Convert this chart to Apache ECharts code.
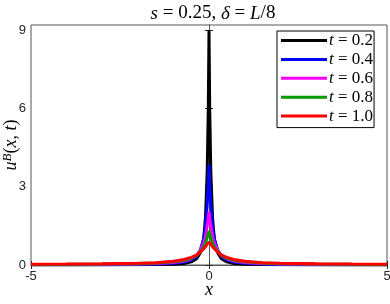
<!DOCTYPE html>
<html><head><meta charset="utf-8">
<script src="https://cdn.jsdelivr.net/npm/echarts@6/dist/echarts.min.js"></script>
<style>html,body{margin:0;padding:0;background:#fff}#c{width:390px;height:304px}</style>
</head><body><div id="c"></div>
<script>
const xs = [-5,-4,-3,-2,-1.5,-1,-0.7,-0.5,-0.35,-0.25,-0.15,-0.1,-0.05,-0.02,0,0.02,0.05,0.1,0.15,0.25,0.35,0.5,0.7,1,1.5,2,3,4,5];
const u02 = [0.002,0.003,0.005,0.009,0.015,0.03,0.06,0.12,0.24,0.45,1.0,1.8,3.6,6.0,9.0,6.0,3.6,1.8,1.0,0.45,0.24,0.12,0.06,0.03,0.015,0.009,0.005,0.003,0.002];
const u04 = [0.008,0.01,0.014,0.023,0.035,0.065,0.11,0.19,0.33,0.55,1.0,1.5,2.3,3.1,3.85,3.1,2.3,1.5,1.0,0.55,0.33,0.19,0.11,0.065,0.035,0.023,0.014,0.01,0.008];
const u06 = [0.016,0.019,0.025,0.038,0.055,0.095,0.15,0.24,0.38,0.55,0.85,1.1,1.5,1.8,2.04,1.8,1.5,1.1,0.85,0.55,0.38,0.24,0.15,0.095,0.055,0.038,0.025,0.019,0.016];
const u08 = [0.023,0.027,0.035,0.05,0.075,0.12,0.18,0.26,0.37,0.5,0.7,0.85,1.05,1.2,1.31,1.2,1.05,0.85,0.7,0.5,0.37,0.26,0.18,0.12,0.075,0.05,0.035,0.027,0.023];
const u10 = [0.03,0.035,0.045,0.065,0.09,0.14,0.21,0.29,0.38,0.48,0.62,0.7,0.8,0.85,0.89,0.85,0.8,0.7,0.62,0.48,0.38,0.29,0.21,0.14,0.09,0.065,0.045,0.035,0.03];
const seriesNames = ['0.2','0.4','0.6','0.8','1.0'];
const seriesVals = [u02,u04,u06,u08,u10];
const colors = ['#000000','#0000ff','#ff00ff','#009900','#ff0000'];
const xTicks = [-5,0,5];
const yTicks = [0,3,6,9];

const chart = echarts.init(document.getElementById('c'));
const axisCol = '#262626';
const serif = 'Liberation Serif';
const sans = 'Liberation Sans';
chart.setOption({
  animation:false,
  backgroundColor:'#fff',
  title:{
    text:'{i|s} = 0.25, {i|δ} = {i|L}/8',
    left:208, top:-1, textAlign:'center',
    textStyle:{fontFamily:serif,fontSize:19,fontWeight:'normal',color:'#000',
      rich:{i:{fontFamily:serif,fontSize:19,fontStyle:'italic',color:'#000'}}}
  },
  grid:{left:31,right:3,top:25,bottom:39,show:true,borderColor:'#555',borderWidth:1,containLabel:false,outerBoundsMode:'none'},
  legend:{
    orient:'vertical', left:277, top:31,
    backgroundColor:'#fff', borderColor:'#000', borderWidth:1,
    padding:[1,1,3,4], itemGap:1.9, itemWidth:46, itemHeight:3, icon:'rect',
    data:seriesNames.map(n=>'t'+n),
    formatter:(name)=>'{i|t} = '+name.slice(1),
    textStyle:{fontFamily:serif,fontSize:17,color:'#000',lineHeight:16,padding:[0,0,0,-3],
      rich:{i:{fontFamily:serif,fontSize:17,fontStyle:'italic',color:'#000',lineHeight:16}}}
  },
  xAxis:[{
    type:'value', min:-5, max:5, interval:5,
    axisLine:{show:true,onZero:false,lineStyle:{color:axisCol}},
    axisTick:{show:true,inside:true,length:4,lineStyle:{color:axisCol},customValues:xTicks},
    axisLabel:{color:axisCol,fontFamily:sans,fontSize:13,margin:5,customValues:xTicks},
    splitLine:{show:false},
    name:'x', nameLocation:'middle', nameGap:16, nameMoveOverlap:false,
    nameTextStyle:{fontFamily:serif,fontStyle:'italic',fontSize:18,color:'#000'}
  },{
    type:'value', min:-5, max:5, interval:5, position:'top',
    axisLine:{show:true,lineStyle:{color:'#555'}},
    axisTick:{show:true,inside:true,length:4,lineStyle:{color:axisCol},customValues:xTicks},
    axisLabel:{show:false}, splitLine:{show:false}
  }],
  yAxis:[{
    type:'value', min:0, max:9.2, interval:3,
    axisLine:{show:true,lineStyle:{color:axisCol}},
    axisTick:{show:true,inside:true,length:4,lineStyle:{color:axisCol},customValues:yTicks},
    axisLabel:{color:axisCol,fontFamily:sans,fontSize:13,margin:5,customValues:yTicks},
    splitLine:{show:false},
    name:'{i|u}{s|B}{n|(}{i|x}{n|, }{i|t}{n|)}', nameLocation:'middle', nameGap:10, nameRotate:90, nameMoveOverlap:false,
    nameTextStyle:{fontFamily:serif,fontSize:18,color:'#000',
      rich:{i:{fontFamily:serif,fontStyle:'italic',fontSize:18,color:'#000',lineHeight:20},
            n:{fontFamily:serif,fontSize:18,color:'#000',lineHeight:20},
            s:{fontFamily:serif,fontStyle:'italic',fontSize:13,color:'#000',verticalAlign:'top',lineHeight:20,padding:[0,0,8,0]}}}
  },{
    type:'value', min:0, max:9.2, interval:3, position:'right',
    axisLine:{show:true,lineStyle:{color:'#555'}},
    axisTick:{show:true,inside:true,length:4,lineStyle:{color:axisCol},customValues:yTicks},
    axisLabel:{show:false}, splitLine:{show:false}
  }],
  series:seriesVals.map((vals,k)=>({
    name:'t'+seriesNames[k], type:'line', showSymbol:false, symbol:'none',
    color:colors[k], lineStyle:{width:3,color:colors[k]},
    data:xs.map((x,i)=>[x,vals[i]]), z:2+k
  }))
});
</script></body></html>
